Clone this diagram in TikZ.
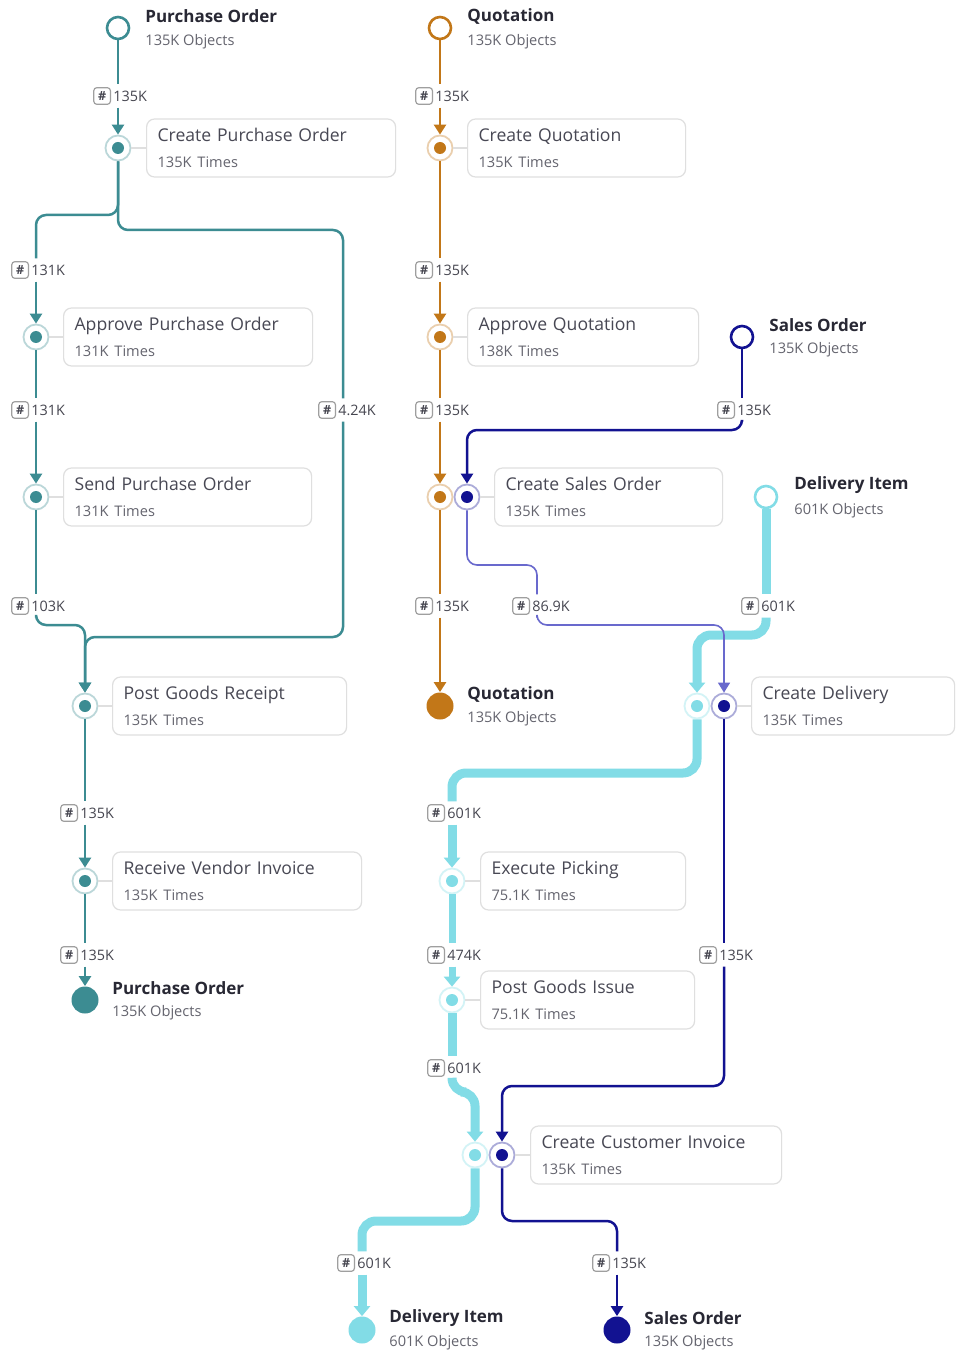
\documentclass[tikz,border=0pt]{standalone}
\usepackage{fontspec}
\setmainfont{Open Sans}
\usetikzlibrary{arrows.meta}

\definecolor{pocol}{RGB}{60,140,146}
\definecolor{qtcol}{RGB}{194,119,24}
\definecolor{socol}{RGB}{18,18,145}
\definecolor{solite}{RGB}{105,105,205}
\definecolor{dicol}{RGB}{130,220,230}
\definecolor{ttlcol}{RGB}{40,40,52}
\definecolor{actcol}{RGB}{72,72,84}
\definecolor{subcol}{RGB}{100,100,110}
\definecolor{cntcol}{RGB}{70,70,80}

\newcommand{\subtxt}[1]{{\fontsize{7.3}{9}\selectfont\color{subcol}#1}}

\tikzset{
  objstart/.style={circle,inner sep=0pt,minimum size=11pt,fill=white,draw=#1,line width=1.3pt},
  objend/.style={circle,inner sep=0pt,minimum size=13.5pt,fill=#1},
  objttl/.style={anchor=west,inner sep=0pt,text=ttlcol,font=\bfseries\fontsize{8.5}{10}\selectfont},
  objsub/.style={anchor=west,inner sep=0pt,text=subcol,font=\fontsize{7.3}{9}\selectfont},
  act/.style={circle,inner sep=0pt,minimum size=12.5pt,fill=white,draw=#1!35,line width=0.9pt,
    path picture={\fill[#1] (path picture bounding box.center) circle[radius=3pt];}},
  actbox/.style={anchor=west,draw=gray!25,line width=0.6pt,rounded corners=4pt,fill=white,
    minimum height=29pt,inner xsep=5.5pt,text width=#1,align=left,text=actcol,
    font=\fontsize{8.8}{13}\selectfont},
  tie/.style={draw=gray!25,line width=0.6pt},
  cnt/.style={anchor=west,fill=white,inner xsep=1pt,inner ysep=3pt,text=cntcol,
    font=\fontsize{7.2}{8}\selectfont,label distance=0.3pt,label={[hashbx]left:\#}},
  hashbx/.style={draw=gray!75,line width=0.6pt,rounded corners=1.5pt,inner sep=0pt,
    minimum size=8.3pt,fill=white,font=\bfseries\fontsize{6.3}{7}\selectfont,text=cntcol},
  po/.style={draw=pocol,line width=1.25pt,rounded corners=5pt},
  qt/.style={draw=qtcol,line width=1.25pt,rounded corners=5pt},
  so/.style={draw=socol,line width=1.25pt,rounded corners=5pt},
  sol/.style={draw=solite,line width=0.8pt,rounded corners=5pt},
  di/.style={draw=dicol,line width=4.5pt,rounded corners=7pt},
  dith/.style={draw=dicol,line width=3.5pt,rounded corners=7pt},
  tip/.style={-{Triangle[width=6pt,length=5pt]}},
  tipw/.style={-{Triangle[width=8pt,length=5pt]}},
}

\begin{document}
\begin{tikzpicture}[x=0.5pt,y=-0.5pt]
\fill[white] (0,0) rectangle (962,1353);
\useasboundingbox (0,0) rectangle (962,1353);

% purchase order
\node[objstart=pocol] (po0) at (118,28) {};
\node[objttl] (po0t) at (145,16) {Purchase Order};
\node[objsub] (po0s) at (145,42) {135K Objects};
\node[act=pocol] (cpo) at (118,148) {};
\node[actbox=113.5pt] (cpob) at (146,148) {Create Purchase Order\\\subtxt{135K Times}};
\node[act=pocol] (apo) at (36,337) {};
\node[actbox=113.5pt] (apob) at (63,337) {Approve Purchase Order\\\subtxt{131K Times}};
\node[act=pocol] (spo) at (36,497) {};
\node[actbox=113pt] (spob) at (63,497) {Send Purchase Order\\\subtxt{131K Times}};
\node[act=pocol] (pgr) at (85,706) {};
\node[actbox=106pt] (pgrb) at (112,706) {Post Goods Receipt\\\subtxt{135K Times}};
\node[act=pocol] (rvi) at (85,881) {};
\node[actbox=113.5pt] (rvib) at (112,881) {Receive Vendor Invoice\\\subtxt{135K Times}};
\node[objend=pocol] (po1) at (85,1000) {};
\node[objttl] (po1t) at (112,988) {Purchase Order};
\node[objsub] (po1s) at (112,1013) {135K Objects};
\coordinate (rgt) at (343,230);

% quotation
\node[objstart=qtcol] (qt0) at (440,28) {};
\node[objttl] (qt0t) at (467,16) {Quotation};
\node[objsub] (qt0s) at (467,42) {135K Objects};
\node[act=qtcol] (cq) at (440,148) {};
\node[actbox=98pt] (cqb) at (467,148) {Create Quotation\\\subtxt{135K Times}};
\node[act=qtcol] (aq) at (440,337) {};
\node[actbox=104.5pt] (aqb) at (467,337) {Approve Quotation\\\subtxt{138K Times}};
\node[act=qtcol] (csoq) at (440,497) {};
\node[act=socol] (csos) at (467,497) {};
\node[actbox=103pt] (csob) at (494,497) {Create Sales Order\\\subtxt{135K Times}};
\node[objend=qtcol] (qt1) at (440,706) {};
\node[objttl] (qt1t) at (467,694) {Quotation};
\node[objsub] (qt1s) at (467,719) {135K Objects};

% sales order
\node[objstart=socol] (so0) at (742,337) {};
\node[objttl] (so0t) at (769,325) {Sales Order};
\node[objsub] (so0s) at (769,350) {135K Objects};
\coordinate (mid) at (537,565);
\node[act=dicol] (cdd) at (697,706) {};
\node[act=socol] (cds) at (724,706) {};
\node[actbox=90.5pt] (cdb) at (751,706) {Create Delivery\\\subtxt{135K Times}};
\node[act=dicol] (ccid) at (475,1155) {};
\node[act=socol] (ccis) at (502,1155) {};
\node[actbox=114.5pt] (ccib) at (530,1155) {Create Customer Invoice\\\subtxt{135K Times}};
\node[objend=socol] (so1) at (617,1330) {};
\node[objttl] (so1t) at (644,1318) {Sales Order};
\node[objsub] (so1s) at (644,1343) {135K Objects};

% delivery item
\node[objstart=dicol] (di0) at (766,497) {};
\node[objttl] (di0t) at (794,485) {Delivery Item};
\node[objsub] (di0s) at (794,511) {601K Objects};
\node[act=dicol] (ep) at (452,881) {};
\node[actbox=91.5pt] (epb) at (480,881) {Execute Picking\\\subtxt{75.1K Times}};
\node[act=dicol] (pgi) at (452,1000) {};
\node[actbox=96pt] (pgib) at (480,1000) {Post Goods Issue\\\subtxt{75.1K Times}};
\node[objend=dicol] (di1) at (362,1330) {};
\node[objttl] (di1t) at (389,1318) {Delivery Item};
\node[objsub] (di1s) at (389,1343) {601K Objects};

% counts
\node[cnt] (n1) at (111,96) {135K};
\node[cnt] (n2) at (29,270) {131K};
\node[cnt] (n3) at (29,410) {131K};
\node[cnt] (n4) at (336,410) {4.24K};
\node[cnt] (n5) at (29,606) {103K};
\node[cnt] (n6) at (78,813) {135K};
\node[cnt] (n7) at (78,955) {135K};
\node[cnt] (n8) at (433,96) {135K};
\node[cnt] (n9) at (433,270) {135K};
\node[cnt] (n10) at (433,410) {135K};
\node[cnt] (n11) at (433,606) {135K};
\node[cnt] (n12) at (735,410) {135K};
\node[cnt] (n13) at (530,606) {86.9K};
\node[cnt] (n14) at (717,955) {135K};
\node[cnt] (n15) at (610,1263) {135K};
\node[cnt] (n16) at (759,606) {601K};
\node[cnt] (n17) at (445,813) {601K};
\node[cnt] (n18) at (445,955) {474K};
\node[cnt] (n19) at (445,1068) {601K};
\node[cnt] (n20) at (355,1263) {601K};

% ties
\foreach \a/\b in {cpo/cpob,apo/apob,spo/spob,pgr/pgrb,rvi/rvib,cq/cqb,aq/aqb,csos/csob,cds/cdb,ep/epb,pgi/pgib,ccis/ccib}
  \draw[tie] (\a) -- (\b);

% purchase order flow
\draw[po] (po0) -- (n1.north -| po0);
\draw[po,tip] (n1.south -| po0) -- (cpo);
\draw[po] (cpo) -- (118,215) -- (36,215) -- (n2.north -| apo);
\draw[po,tip] (n2.south -| apo) -- (apo);
\draw[po] (cpo) -- (118,230) -- (rgt) -- (n4.north -| rgt);
\draw[po] (apo) -- (n3.north -| apo);
\draw[po,tip] (n3.south -| apo) -- (spo);
\draw[po] (spo) -- (n5.north -| spo);
\draw[po,tip] (n5.south -| spo) -- (36,625) -- (85,625) -- (pgr);
\draw[po,tip] (n4.south -| rgt) -- (343,637) -- (85,637) -- (pgr);
\draw[po] (pgr) -- (n6.north -| pgr);
\draw[po,tip] (n6.south -| pgr) -- (rvi);
\draw[po] (rvi) -- (n7.north -| rvi);
\draw[po,tip] (n7.south -| rvi) -- (po1);

% quotation flow
\draw[qt] (qt0) -- (n8.north -| qt0);
\draw[qt,tip] (n8.south -| qt0) -- (cq);
\draw[qt] (cq) -- (n9.north -| cq);
\draw[qt,tip] (n9.south -| cq) -- (aq);
\draw[qt] (aq) -- (n10.north -| aq);
\draw[qt,tip] (n10.south -| aq) -- (csoq);
\draw[qt] (csoq) -- (n11.north -| csoq);
\draw[qt,tip] (n11.south -| csoq) -- (qt1);

% delivery item flow
\draw[di] (di0) -- (n16.north -| di0);
\draw[di,tipw] (n16.south -| di0) -- (766,635) -- (697,635) -- (cdd);
\draw[di] (cdd) -- (697,773) -- (452,773) -- (n17.north -| ep);
\draw[di,tipw] (n17.south -| ep) -- (ep);
\draw[dith] (ep) -- (n18.north -| ep);
\draw[dith,tipw] (n18.south -| ep) -- (pgi);
\draw[di] (pgi) -- (n19.north -| pgi);
\draw[di,tipw] (n19.south -| pgi) -- (452,1092) -- (475,1092) -- (ccid);
\draw[di] (ccid) -- (475,1221) -- (362,1221) -- (n20.north -| di1);
\draw[di,tipw] (n20.south -| di1) -- (di1);

% sales order flow
\draw[so] (so0) -- (n12.north -| so0);
\draw[so,tip] (n12.south -| so0) -- (742,430) -- (467,430) -- (csos);
\draw[sol] (csos) -- (467,565) -- (mid) -- (n13.north -| mid);
\draw[sol,tip] (n13.south -| mid) -- (537,625) -- (724,625) -- (cds);
\draw[so] (cds) -- (n14.north -| cds);
\draw[so,tip] (n14.south -| cds) -- (724,1086) -- (502,1086) -- (ccis);
\draw[so] (ccis) -- (502,1221) -- (617,1221) -- (n15.north -| so1);
\draw[so,tip] (n15.south -| so1) -- (so1);
\end{tikzpicture}
\end{document}
